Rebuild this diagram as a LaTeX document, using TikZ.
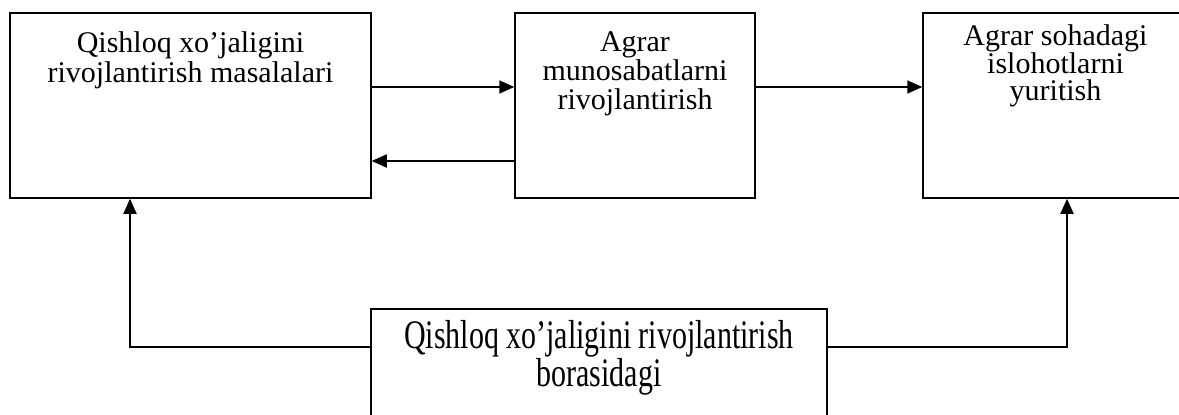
\documentclass[tikz,border=0pt]{standalone}
\usepackage{fontspec}
\setmainfont{Liberation Serif}
\newfontfamily\tallfont[FakeStretch=0.74]{Liberation Serif}
\usetikzlibrary{arrows.meta, positioning}
\tikzset{>/.tip={Triangle[length=15pt,width=13pt]}}
\tikzset{box/.style={draw, line width=1.5pt, inner sep=0pt}}
\tikzset{txt/.style={align=center, inner sep=0pt, anchor=base}}

\begin{document}
\begin{tikzpicture}[x=1pt, y=-1pt, line width=1.8pt]
\useasboundingbox (0,0) rectangle (1179,415);
\draw node(mas) [box, minimum width=361pt, minimum height=185pt] at (190.5,105.5) {};
\draw node(agr) [box, minimum width=240pt, minimum height=185pt] at (635,105.5) {};
\draw node(isl) [box, minimum width=265pt, minimum height=185pt] at (1055.5,105.5) {};
\draw node(bor) [box, minimum width=456pt, minimum height=131pt] at (599,374.5) {};
\draw node[txt, font=\fontsize{30}{30}\selectfont] at (190.5,82) {Qishloq xo’jaligini\\rivojlantirish masalalari};
\draw node[txt, font=\fontsize{30}{29}\selectfont] at (635,109) {Agrar\\munosabatlarni\\rivojlantirish};
\draw node[txt, font=\fontsize{30}{26.7}\selectfont] at (1055.5,100) {Agrar sohadagi\\islohotlarni\\yuritish};
\draw node[txt, font=\tallfont\fontsize{40.5}{33}\selectfont] at (599,386) {Qishloq xo’jaligini rivojlantirish\\borasidagi};
% rows and columns of the connectors
\coordinate (up) at (0,87);
\coordinate (lo) at (0,161);
\coordinate (rb) at (0,347);
\coordinate (lx) at (130,0);
\coordinate (rx) at (1067,0);
\draw[->] (mas.east |- up) -- (agr.west |- up);
\draw[->] (agr.west |- lo) -- (mas.east |- lo);
\draw[->] (agr.east |- up) -- (isl.west |- up);
\draw[->] (bor.west |- rb) -| (lx |- mas.south);
\draw[->] (bor.east |- rb) -| (rx |- isl.south);
\end{tikzpicture}
\end{document}
